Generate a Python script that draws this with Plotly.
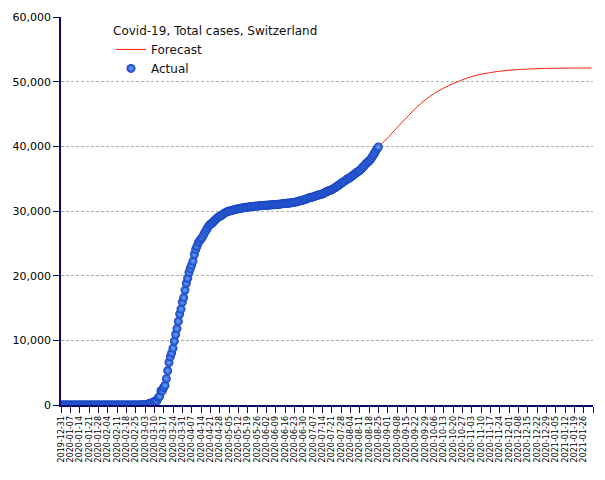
import plotly.graph_objects as go
import pandas as pd

# ---------------- data ----------------
actual_start = "2019-12-31"
actual_values = [
    # 2019-12-31 .. 2020-02-24
    0, 0, 0, 0, 0, 0, 0, 0, 0, 0, 0, 0, 0, 0,
    0, 0, 0, 0, 0, 0, 0, 0, 0, 0, 0, 0, 0, 0,
    0, 0, 0, 0, 0, 0, 0, 0, 0, 0, 0, 0, 0, 0,
    0, 0, 0, 0, 0, 0, 0, 0, 0, 0, 0, 0, 0, 0,
    # 2020-02-25 .. 02-29
    1, 1, 8, 8, 18,
    # March
    24, 42, 56, 90, 114, 214, 268, 337, 374, 491, 652, 652, 1139, 1359, 2200,
    2200, 2700, 3028, 4075, 5294, 6575, 7474, 8060, 8795, 9877, 10897, 11811,
    12928, 14076, 14829, 15922,
    # April
    16605, 17768, 18827, 19606, 20505, 21100, 21657, 22253, 23280, 24051,
    24551, 25107, 25415, 25688, 25936, 26336, 26732, 27078, 27404, 27740,
    27944, 28063, 28268, 28496, 28677, 28894, 29061, 29164, 29264, 29407,
    # May
    29586, 29705, 29817, 29905, 29981, 30009, 30060, 30126, 30207, 30251,
    30305, 30344, 30380, 30413, 30463, 30514, 30572, 30587, 30597, 30618,
    30658, 30694, 30707, 30736, 30746, 30761, 30776, 30796, 30828, 30845, 30862,
    # June
    30871, 30874, 30893, 30913, 30936, 30956, 30965, 30972, 30988, 31011,
    31044, 31063, 31094, 31117, 31131, 31154, 31187, 31200, 31235, 31243,
    31292, 31310, 31332, 31376, 31428, 31486, 31555, 31617, 31652, 31714,
    # July
    31780, 31860, 31950, 32030, 32090, 32130, 32180, 32250, 32330, 32410,
    32480, 32530, 32570, 32620, 32740, 32860, 32960, 33060, 33150, 33200,
    33290, 33420, 33540, 33680, 33820, 33930, 34100, 34230, 34400, 34540, 34650,
    # August 1 .. 25
    34820, 34990, 35060, 35200, 35350, 35520, 35690, 35850, 36000, 36130,
    36250, 36430, 36680, 36900, 37140, 37370, 37560, 37720, 37950, 38240,
    38560, 38900, 39250, 39600, 39900,
]

forecast_dates = [
    "2019-12-31", "2020-02-18", "2020-02-25", "2020-03-03", "2020-03-10", "2020-03-17",
    "2020-03-24", "2020-03-31", "2020-04-07", "2020-04-14", "2020-04-21",
    "2020-04-28", "2020-05-05", "2020-05-12", "2020-05-19", "2020-05-26",
    "2020-06-02", "2020-06-09", "2020-06-16", "2020-06-23", "2020-06-30",
    "2020-07-07", "2020-07-14", "2020-07-21", "2020-07-28", "2020-08-04",
    "2020-08-11", "2020-08-18", "2020-08-25", "2020-09-01", "2020-09-08",
    "2020-09-15", "2020-09-22", "2020-09-29", "2020-10-06", "2020-10-13",
    "2020-10-20", "2020-10-27", "2020-11-03", "2020-11-10", "2020-11-17",
    "2020-11-24", "2020-12-01", "2020-12-08", "2020-12-15", "2020-12-22",
    "2020-12-29", "2021-01-05", "2021-01-12", "2021-01-19", "2021-01-26",
    "2021-02-01",
]
forecast_values = [
    0, 0, 10, 80, 500, 2600,
    8500, 15800, 21700, 25700, 28000,
    29300, 30000, 30400, 30600, 30800,
    30900, 31000, 31150, 31350, 31700,
    32200, 32620, 33290, 34230, 35200,
    36250, 37720, 39900, 41300, 42900,
    44400, 45900, 47150, 48200, 49000,
    49700, 50280, 50800, 51150, 51400,
    51620, 51760, 51870, 51940, 52010,
    52060, 52080, 52095, 52100, 52105,
    52110,
]

y_ticks = [0, 10000, 20000, 30000, 40000, 50000, 60000]
x_tick_start = "2019-12-31"
x_tick_end = "2021-02-02"

# ---------------- figure ----------------
actual_dates = pd.date_range(actual_start, periods=len(actual_values), freq="D")
tick_dates = pd.date_range(x_tick_start, x_tick_end, freq="7D")
tick_text = [d.strftime("%Y-%m-%d") for d in tick_dates]
tick_text[-1] = ""

navy = "#0b0b6b"

fig = go.Figure()
fig.add_trace(go.Scatter(
    x=pd.to_datetime(forecast_dates), y=forecast_values, name="Forecast",
    mode="lines", line=dict(color="#ff1a00", width=1, shape="spline", smoothing=0.6),
))
fig.add_trace(go.Scatter(
    x=actual_dates, y=actual_values, name="Actual", mode="markers",
    marker=dict(size=9, color="#1240c0", line=dict(width=0),
                gradient=dict(type="radial", color="#6fa6ff")),
))

fig.update_layout(
    width=597, height=472,
    margin=dict(l=53, r=12, t=9, b=75, autoexpand=False),
    paper_bgcolor="white", plot_bgcolor="white",
    font=dict(family="DejaVu Sans", color="black"),
    showlegend=True,
    legend=dict(
        x=0.094, y=0.994, xanchor="left", yanchor="top",
        bgcolor="rgba(0,0,0,0)",
        font=dict(size=12, family="DejaVu Sans", color="#111"),
        title=dict(text="Covid-19, Total cases, Switzerland",
                   font=dict(size=12, family="DejaVu Sans", color="#111")),
        tracegroupgap=0,
    ),
    xaxis=dict(
        type="date",
        range=[x_tick_start, x_tick_end],
        tickmode="array", tickvals=tick_dates, ticktext=tick_text,
        tickangle=-90, tickfont=dict(size=8, family="DejaVu Sans", color="black"),
        ticks="outside", ticklen=6, tickcolor=navy, tickwidth=1,
        showline=True, linecolor=navy, linewidth=1.5,
        showgrid=False, zeroline=False, automargin=False,
    ),
    yaxis=dict(
        range=[0, 60000],
        tickmode="array", tickvals=y_ticks,
        tickformat=",d",
        tickfont=dict(size=11, family="DejaVu Sans", color="black"),
        ticks="outside", ticklen=6, tickcolor=navy, tickwidth=1,
        showline=True, linecolor=navy, linewidth=1.5,
        showgrid=True, gridcolor="#b0b0b0", gridwidth=1, griddash="3px,2px",
        zeroline=False, automargin=False,
    ),
)

fig.write_html("out.html")
